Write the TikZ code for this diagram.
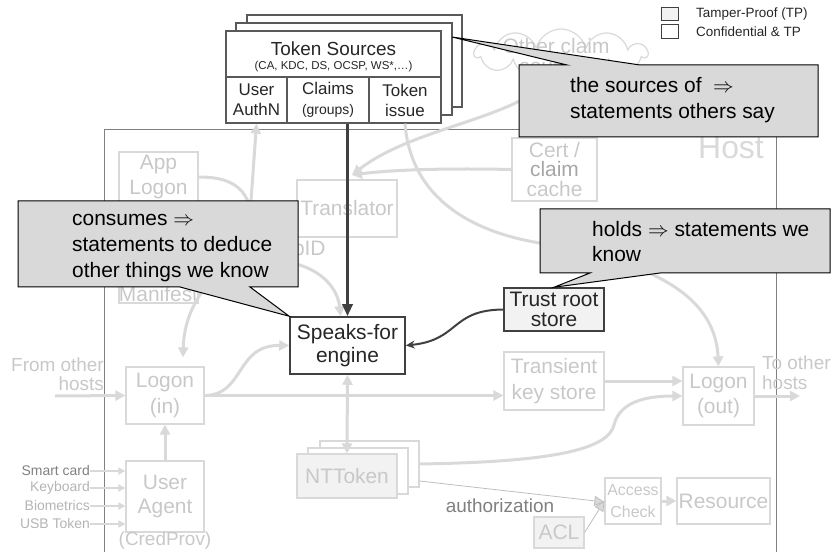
\documentclass[tikz,border=0pt]{standalone}
\usepackage{fontspec}
\setmainfont{Liberation Sans}
\usetikzlibrary{arrows.meta,shapes.symbols}

\newcommand{\pxfont}[2]{\fontsize{#1}{#2}\selectfont}

\definecolor{lightline}{RGB}{217,217,217}
\definecolor{lighttext}{RGB}{200,200,200}
\definecolor{midtext}{RGB}{128,128,128}
\definecolor{inputtext}{RGB}{180,180,180}
\definecolor{tpfill}{RGB}{242,242,242}
\definecolor{calloutfill}{RGB}{217,217,217}
\definecolor{darkline}{RGB}{64,64,64}
\definecolor{hostline}{RGB}{128,128,128}
\definecolor{srcline}{RGB}{89,89,89}
\definecolor{authline}{RGB}{190,190,190}

\tikzset{
  lightbox/.style={shape=rectangle,draw=lightline,line width=1.2bp,text=lighttext,inner sep=0pt,align=center,font=\pxfont{21}{25}},
  tpbox/.style={lightbox,fill=tpfill},
  darkbox/.style={shape=rectangle,draw=darkline,line width=1.5bp,fill=white,text=black!85,inner sep=0pt,align=center,font=\pxfont{21}{23}},
  srcbox/.style={shape=rectangle,draw=srcline,line width=1.2bp,fill=white,text=black!85,inner sep=0pt,align=center,font=\pxfont{17}{20}},
  keybox/.style={shape=rectangle,draw=darkline,line width=0.8bp,minimum width=17bp,minimum height=13.5bp,inner sep=0pt},
  lighttxt/.style={text=lighttext,inner sep=0pt,font=\pxfont{19}{20}},
  inputtxt/.style={anchor=east,text=inputtext,inner sep=0pt,font=\pxfont{14}{14}},
  lightarrow/.style={draw=lightline,line width=3bp,>={Triangle[length=10bp,width=10bp]},->},
  lightboth/.style={lightarrow,<->},
  inputarrow/.style={draw=lightline,line width=2bp,-{Triangle[length=7bp,width=7bp]}},
  thinarrow/.style={draw=authline,line width=0.8bp,-{Triangle[length=10bp,width=10bp,fill=lightline]}},
  callout/.style={draw=black,line width=1bp,fill=calloutfill},
  callouttext/.style={anchor=west,align=left,text=black,inner sep=0pt,font=\pxfont{21}{26}},
}

\begin{document}
\begin{tikzpicture}[x=1bp,y=-1bp]
    \useasboundingbox (0,0) rectangle (832,552);
    % host
    \draw[hostline,line width=1bp] (104,560) -- (104,130) -- (776,130) -- (776,560);
    \node[text=lightline,inner sep=0pt,font=\pxfont{32}{32}] (hostlbl) at (731,148) {Host};
    % legend
    \node[keybox,fill=tpfill] (tpkey) at (669.5,14) {};
    \node[keybox,fill=white] (ctpkey) at (669.5,31.5) {};
    \node[anchor=west,inner sep=0pt,text=black!85,font=\pxfont{13.5}{15}] (tplbl) at (696,14) {Tamper-Proof (TP)};
    \node[anchor=west,inner sep=0pt,text=black!85,font=\pxfont{13.5}{15}] (ctplbl) at (696,31.5) {Confidential \& TP};
    % other claim sources
    \node[cloud,cloud puffs=11,cloud ignores aspect,draw=lightline,line width=1.2bp,minimum width=172bp,minimum height=50bp,inner sep=0pt] (othercloud) at (561,54) {};
    \node[text=lighttext,inner sep=0pt,align=center,font=\pxfont{21}{21}] (othertext) at (556,56) {Other claim\\sources};
    % light boxes
    \node[lightbox,minimum width=79bp,minimum height=50bp] (applogon) at (158.5,177) {App\\Logon};
    \node[lightbox,minimum width=79bp,minimum height=18bp] (manifest) at (158.5,294) {Manifest};
    \node[lighttxt,font=\pxfont{21}{21}] (appid) at (296.5,250) {AppID};
    \node[lightbox,minimum width=100bp,minimum height=57bp] (translator) at (347,208.5) {Translator};
    \node[lightbox,minimum width=85bp,minimum height=63bp,font=\pxfont{21}{20}] (certcache) at (554.5,169.5) {Cert /\\{\color{black!35}claim}\\cache};
    \node[lightbox,minimum width=78bp,minimum height=57bp,font=\pxfont{21}{26}] (logonin) at (165,395.5) {Logon\\(in)};
    \node[lightbox,minimum width=78bp,minimum height=71bp,font=\pxfont{21}{24}] (useragent) at (165,496.5) {User\\Agent};
    \node[lighttxt] (credprov) at (165,541) {(CredProv)};
    \node[lighttxt,anchor=east,align=right,font=\pxfont{19}{19}] (fromhosts) at (104,374) {From other\\hosts};
    \node[lightbox,minimum width=100bp,minimum height=58bp,font=\pxfont{21}{26}] (transient) at (554,381) {Transient\\key store};
    \node[lightbox,minimum width=71bp,minimum height=58bp,font=\pxfont{21}{26}] (logonout) at (718.5,396) {Logon\\(out)};
    \node[lighttxt,anchor=west,align=left,font=\pxfont{19}{20}] (tohosts) at (762,373) {To other\\hosts};
    \node[lightbox,fill=white,minimum width=99bp,minimum height=46bp] (ntback2) at (369.5,464) {};
    \node[lightbox,fill=white,minimum width=100bp,minimum height=46bp] (ntback1) at (358,471) {};
    \node[tpbox,minimum width=100bp,minimum height=44bp] (ntfront) at (347,476) {NTToken};
    \node[lightbox,minimum width=56bp,minimum height=46bp,font=\pxfont{16}{22}] (accesscheck) at (633,501) {Access\\Check};
    \node[lightbox,minimum width=93bp,minimum height=46bp] (resource) at (723.5,501) {Resource};
    \node[tpbox,minimum width=50bp,minimum height=31bp] (acl) at (559,532.5) {ACL};
    \node[text=midtext,inner sep=0pt,font=\pxfont{19}{19}] (authz) at (500,506) {authorization};
    % credential inputs
    \node[inputtxt,text=midtext] (smartcard) at (90,471) {Smart card};
    \node[inputtxt] (keyboard) at (90,488) {Keyboard};
    \node[inputtxt] (biometrics) at (90,506) {Biometrics};
    \node[inputtxt] (usbtoken) at (90,524) {USB Token};
    \foreach \inp in {smartcard,keyboard,biometrics,usbtoken}
        \draw[inputarrow] (\inp.east) -- (\inp.east -| useragent.west);
    % dark boxes
    \node[darkbox,minimum width=115bp,minimum height=57bp] (speaks) at (347.5,345.5) {Speaks-for\\engine};
    \node[darkbox,fill=tpfill,minimum width=100bp,minimum height=43bp,font=\pxfont{21}{20}] (trust) at (554,309.5) {Trust root\\store};
    % token sources
    \node[srcbox,minimum width=215bp,minimum height=92bp] (tsback2) at (354.5,61) {};
    \node[srcbox,minimum width=216bp,minimum height=92bp] (tsback1) at (344,69) {};
    \node[srcbox,minimum width=215bp,minimum height=46bp] (tshead) at (333.5,54) {};
    \node[srcbox,minimum width=61bp,minimum height=46bp] (authn) at (256.5,100) {User\\AuthN};
    \node[srcbox,minimum width=82bp,minimum height=46bp] (claims) at (328,100) {Claims\\{\pxfont{14}{20}(groups)}};
    \node[srcbox,minimum width=72bp,minimum height=46bp] (tokissue) at (405,100) {Token\\issue};
    \node[text=black!85,inner sep=0pt,font=\pxfont{19}{19}] (tstitle) at (333.5,49) {Token Sources};
    \node[text=black!85,inner sep=0pt,font=\pxfont{11.5}{12}] (tslist) at (333.5,67) {(CA, KDC, DS, OCSP, WS*,…)};
    % light connectors
    \coordinate (fromin) at (55,396);
    \coordinate (toout) at (800,396);
    \coordinate (trin) at (352,175);
    \coordinate (upbend) at (250,215);
    \coordinate (alend) at (253,230);
    \draw[lightarrow] (fromin) -- (logonin.west);
    \draw[lightarrow] (useragent.north) -- (logonin.south);
    \draw[lightarrow] (logonin.east) -- (logonin.east -| transient.west);
    \draw[lightarrow] (logonin.east) .. controls (245,395) and (235,345) .. (speaks.west);
    \draw[lightarrow] (transient.east) -- (transient.east -| logonout.west);
    \draw[lightarrow] (logonout.east) -- (toout);
    \draw[lightarrow] (ntback2.east) .. controls (550,462) and (608,450) .. (614,425) .. controls (620,400) and (650,396) .. (logonout.west);
    \draw[lightarrow] (tokissue.south) .. controls (410,190) and (460,230) .. (540,243) .. controls (640,260) and (715,290) .. (logonout.north);
    \draw[lightarrow] (certcache.west) .. controls (440,168) and (390,170) .. (trin);
    \draw[lightarrow] (othercloud.south) .. controls (540,118) and (420,122) .. (trin);
    \draw[draw=lightline,line width=3bp] (applogon.east) .. controls (235,177) and (252,190) .. (alend);
    \draw[lightboth] (authn.south) -- (upbend) .. controls (248,260) and (185,280) .. ([xshift=18bp,yshift=9bp]logonin.north);
    \draw[lightarrow] (appid.south west) .. controls (322,262) and (338,290) .. ([xshift=-7bp]speaks.north);
    \draw[lightboth] (speaks.south) -- (ntfront.north);
    \draw[thinarrow] ([yshift=-17bp]ntback2.east) -- ([yshift=-1bp]accesscheck.west);
    \draw[thinarrow] (acl.east) -- (accesscheck.west);
    \draw[lightarrow] (accesscheck.east) -- (resource.west);
    % dark connectors
    \draw[darkline,line width=3bp,-{Triangle[length=12bp,width=10bp]}] (speaks.north |- claims.south) -- (speaks.north);
    \draw[darkline,line width=2bp,-{Stealth[length=9bp,width=8bp]}] (trust.west) .. controls (450,310) and (460,340) .. (speaks.east);
    % callouts
    \coordinate (srctip) at (452,37);
    \draw[callout] (519,65) -- (567,65) -- (srctip) -- (640,65) -- (818,65) -- (818,137) -- (519,137) -- cycle;
    \node[callouttext] (srcnote) at (570,100) {the sources of~~$\Rightarrow$\\statements others say};
    \draw[callout] (18,201) -- (298,201) -- (298,287) -- (250,287) -- (speaks.north west) -- (180,287) -- (18,287) -- cycle;
    \node[callouttext] (usenote) at (72,248) {consumes $\Rightarrow$\\statements to deduce\\other things we know};
    \draw[callout] (540,209) -- (830,209) -- (830,273) -- (660,273) -- (trust.north) -- (590,273) -- (540,273) -- cycle;
    \node[callouttext] (holdnote) at (592,241.5) {holds $\Rightarrow$ statements we\\know};
\end{tikzpicture}
\end{document}
